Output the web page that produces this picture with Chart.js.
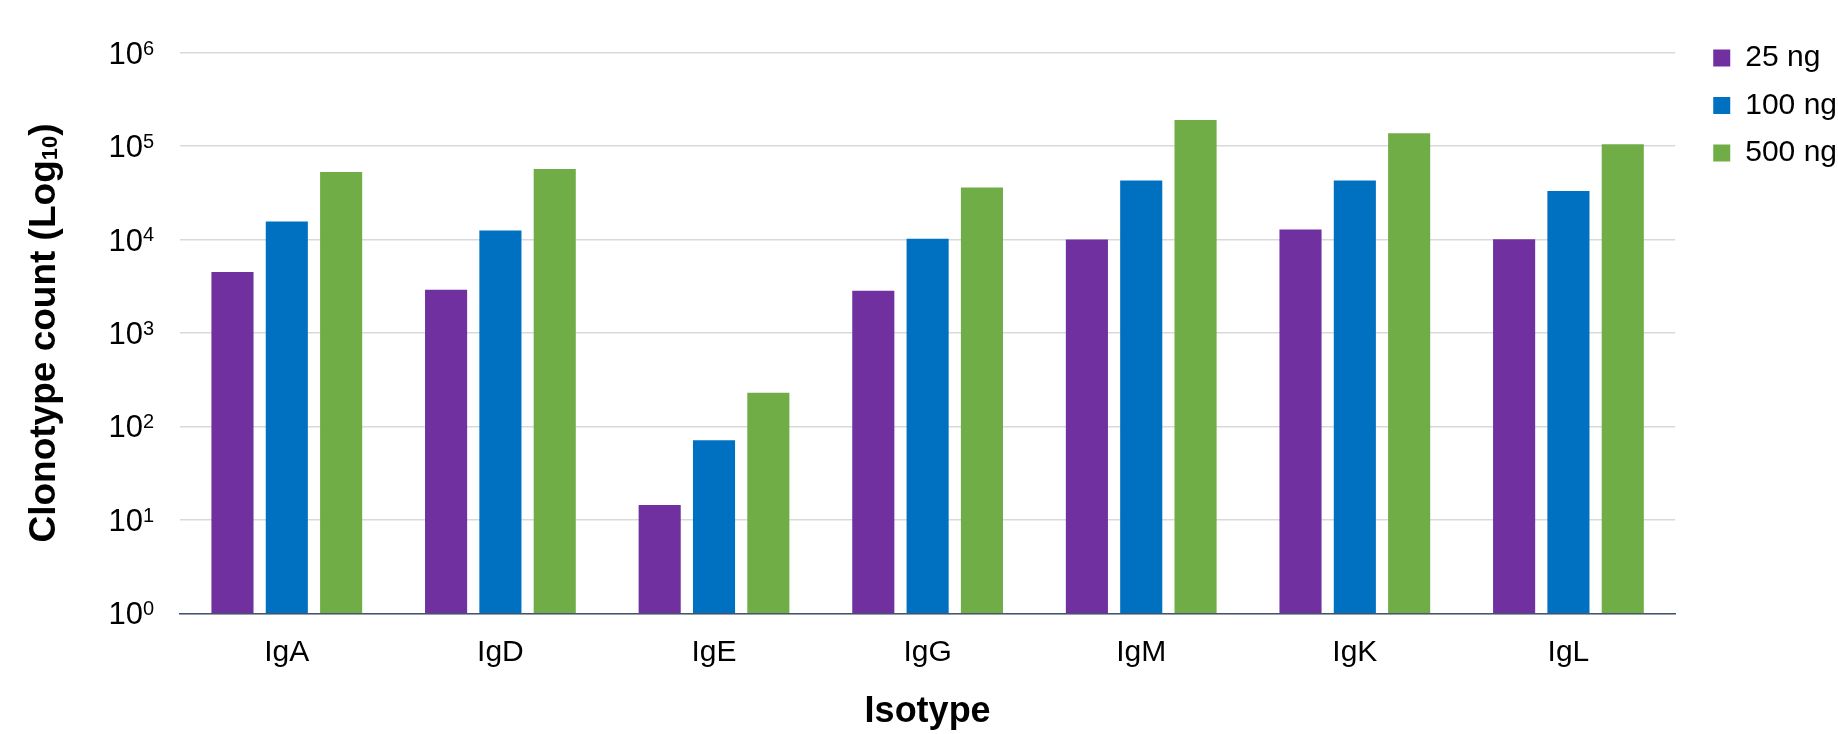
<!DOCTYPE html>
<html>
<head>
<meta charset="utf-8">
<script src="https://cdn.jsdelivr.net/npm/chart.js@4.4.1/dist/chart.umd.min.js"></script>
<style>
  html, body { margin: 0; padding: 0; background: #fff; overflow: hidden; }
  #wrap { position: relative; width: 1860px; height: 734px; }
</style>
</head>
<body>
<div id="wrap"><canvas id="c"></canvas></div>
<script>
const categories = ['IgA', 'IgD', 'IgE', 'IgG', 'IgM', 'IgK', 'IgL'];
const seriesNames = ['25 ng', '100 ng', '500 ng'];
const values25 = [4500, 2900, 14.4, 2830, 10000, 12800, 10100];
const values100 = [15600, 12500, 71, 10200, 43000, 43000, 33000];
const values500 = [53000, 57000, 230, 36000, 190000, 137000, 105000];
const yTickValues = [1, 10, 100, 1000, 10000, 100000, 1000000];
const yTickBases = ['10', '10', '10', '10', '10', '10', '10'];
const yTickExponents = ['0', '1', '2', '3', '4', '5', '6'];
const xTitle = 'Isotype';
const yTitleMain = 'Clonotype count (Log';
const yTitleSub = '10';
const yTitleEnd = ')';

const colors = ['#7030A0', '#0070C0', '#70AD47'];
const FONT = "'Liberation Sans', Arial, sans-serif";

const datasets = [values25, values100, values500].map((vals, i) => ({
  label: seriesNames[i],
  data: vals,
  backgroundColor: colors[i],
  borderWidth: 0,
  yAxisID: 'y',
  categoryPercentage: 0.763,
  barPercentage: 0.775
}));

// Draws the y tick labels (10 with raised exponent) and the y title (with subscript)
const richTextPlugin = {
  id: 'richText',
  afterDraw(chart) {
    const ctx = chart.ctx;
    const s = chart.scales.y;
    ctx.save();
    ctx.fillStyle = '#000';
    ctx.textAlign = 'left';
    ctx.textBaseline = 'alphabetic';
    s.ticks.forEach((t, i) => {
      const py = s.getPixelForValue(t.value);
      ctx.font = `31px ${FONT}`;
      const wb = ctx.measureText(yTickBases[i]).width;
      ctx.font = `20px ${FONT}`;
      const we = ctx.measureText(yTickExponents[i]).width;
      const x0 = s.right - 26 - wb - we;
      ctx.font = `31px ${FONT}`;
      ctx.fillText(yTickBases[i], x0, py + 11);
      ctx.font = `20px ${FONT}`;
      ctx.fillText(yTickExponents[i], x0 + wb, py + 1.8);
    });
    // y title
    const parts = [
      { t: yTitleMain, size: 37, dy: 0 },
      { t: yTitleSub, size: 22, dy: 2 },
      { t: yTitleEnd, size: 37, dy: 0 }
    ];
    let total = 0;
    parts.forEach(p => {
      ctx.font = `bold ${p.size}px ${FONT}`;
      p.w = ctx.measureText(p.t).width;
      total += p.w;
    });
    const cy = (chart.chartArea.top + chart.chartArea.bottom) / 2;
    ctx.translate(55, cy);
    ctx.rotate(-Math.PI / 2);
    let x = -total / 2;
    parts.forEach(p => {
      ctx.font = `bold ${p.size}px ${FONT}`;
      ctx.fillText(p.t, x, p.dy);
      x += p.w;
    });
    ctx.restore();
  }
};

new Chart(document.getElementById('c'), {
  type: 'bar',
  data: { labels: categories, datasets },
  plugins: [richTextPlugin],
  options: {
    responsive: true,
    maintainAspectRatio: false,
    animation: false,
    devicePixelRatio: 1,
    layout: { padding: { top: 25.5, right: 13, bottom: 0, left: 0 } },
    plugins: {
      legend: {
        position: 'right',
        align: 'start',
        labels: {
          font: { family: FONT, size: 30 },
          color: '#000',
          boxWidth: 17,
          boxHeight: 17,
          padding: 17.5
        }
      },
      tooltip: { enabled: false }
    },
    scales: {
      x: {
        type: 'category',
        grid: { display: false, drawTicks: false },
        border: { display: true, color: '#44546A', width: 1.5 },
        ticks: { font: { family: FONT, size: 30 }, color: '#000', padding: 21.3, maxRotation: 0 },
        title: { display: true, text: xTitle, font: { family: FONT, size: 36, weight: 'bold' }, color: '#000', padding: { top: 0, bottom: 0.4 } },
        afterFit: s => { s.height = 120.7; }
      },
      y: {
        type: 'logarithmic',
        position: 'left',
        min: 1,
        max: 1000000,
        afterBuildTicks: s => { s.ticks = yTickValues.map(v => ({ value: v })); },
        grid: { color: '#D9D9D9', lineWidth: 1.5, drawTicks: false },
        border: { display: false },
        ticks: { display: false },
        title: { display: false },
        afterFit: s => { s.width = 180; s.paddingTop = 52.7; }
      },
      gap: {
        type: 'linear',
        position: 'right',
        display: true,
        grid: { display: false, drawTicks: false },
        border: { display: false },
        ticks: { display: false },
        afterFit: s => { s.width = 20.5; }
      }
    }
  }
});
</script>
</body>
</html>
